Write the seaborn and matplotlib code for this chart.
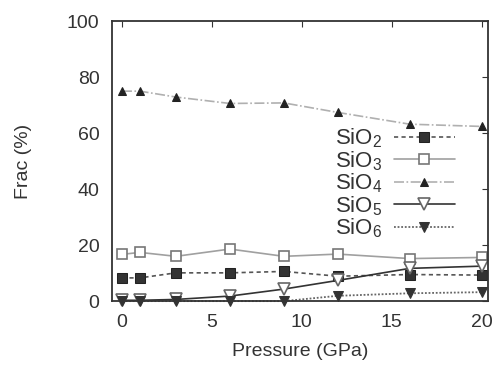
import matplotlib
matplotlib.use("Agg")
import matplotlib.pyplot as plt
import seaborn as sns
import pandas as pd

pressure = [0, 1, 3, 6, 9, 12, 16, 20]
sio2 = [8.3, 8.3, 10.1, 10.1, 10.6, 8.9, 9.5, 9.3]
sio3 = [16.7, 17.4, 16.0, 18.6, 16.0, 16.8, 15.2, 15.6]
sio4 = [75.0, 75.0, 72.9, 70.6, 70.8, 67.4, 63.2, 62.4]
sio5 = [0.3, 0.3, 0.6, 1.8, 4.3, 7.4, 11.7, 12.5]
sio6 = [0.0, 0.0, 0.0, 0.0, 0.0, 1.9, 2.8, 3.2]
labels = ["SiO$_2$", "SiO$_3$", "SiO$_4$", "SiO$_5$", "SiO$_6$"]
xticks = [0, 5, 10, 15, 20]
yticks = [0, 20, 40, 60, 80, 100]

sns.set_style("white")
plt.rcParams["font.family"] = ["Liberation Sans", "DejaVu Sans"]
plt.rcParams["mathtext.fontset"] = "custom"
plt.rcParams["mathtext.rm"] = "Liberation Sans"
plt.rcParams["mathtext.it"] = "Liberation Sans"

fig = plt.figure(figsize=(4.98, 3.65), dpi=100)
ax = fig.add_axes([0.225, 0.175, 0.755, 0.767])

styles = [
    dict(color="#555555", linestyle=(0, (2.5, 2)), marker="s", mfc="#333333", mec="#222222", ms=6.5, lw=1.2),
    dict(color="#a0a0a0", linestyle="-", marker="s", mfc="white", mec="#777777", ms=7.5, lw=1.2, mew=1.2),
    dict(color="#b0b0b0", linestyle=(0, (6, 1.5, 1, 1.5)), marker="^", mfc="#222222", mec="#222222", ms=6, lw=1.2),
    dict(color="#333333", linestyle="-", marker="v", mfc="white", mec="#666666", ms=8, lw=1.2, mew=1.2),
    dict(color="#666666", linestyle=(0, (1, 1)), marker="v", mfc="#333333", mec="#333333", ms=6.5, lw=1.3),
]
series = [sio2, sio3, sio4, sio5, sio6]
for vals, lab, st in zip(series, labels, styles):
    df = pd.DataFrame({"p": pressure, "f": vals})
    sns.lineplot(data=df, x="p", y="f", ax=ax, label=lab, clip_on=False, **st)

ax.set_xlim(-0.55, 20.35)
ax.set_ylim(0, 100)
ax.set_xticks(xticks)
ax.set_yticks(yticks)
ax.tick_params(direction="in", top=True, right=True, length=4, width=0.8,
               labelsize=14, colors="#333333", pad=9)
for sp in ax.spines.values():
    sp.set_color("#333333")
    sp.set_linewidth(1.3)
ax.set_xlabel("Pressure (GPa)", fontsize=14, color="#333333", labelpad=9)
ax.set_ylabel("Frac (%)", fontsize=14, color="#333333", labelpad=25)

leg = ax.legend(loc="upper left", bbox_to_anchor=(0.593, 0.623), frameon=False,
                markerfirst=False, fontsize=16, handlelength=2.75, handletextpad=0.5,
                labelspacing=-0.05, borderpad=0, borderaxespad=0)
for t in leg.get_texts():
    t.set_color("#333333")

fig.savefig("out.png", dpi=100)
